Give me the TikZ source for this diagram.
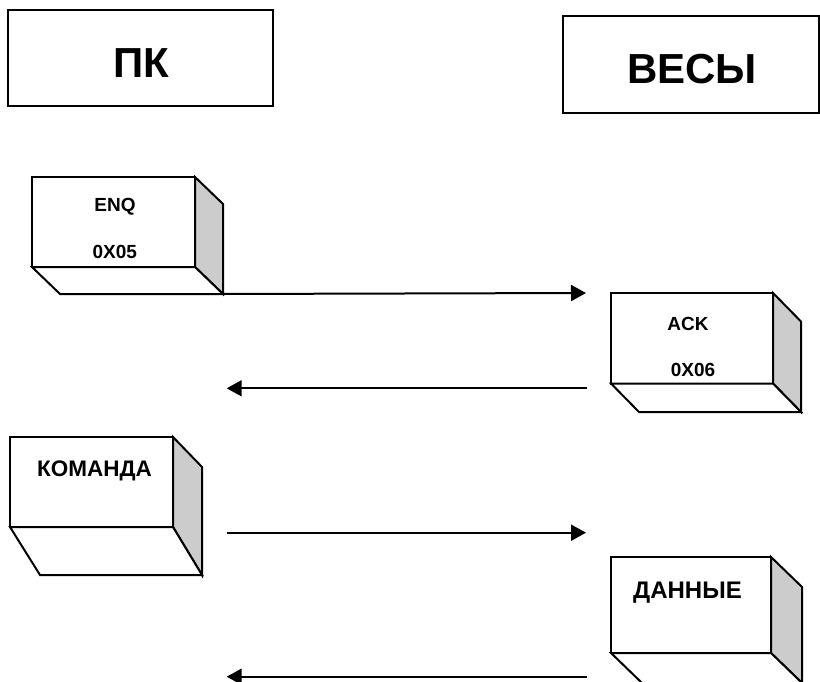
\documentclass[tikz,border=0pt]{standalone}
\usepackage{fontspec}
\setmainfont{Liberation Sans}
\usetikzlibrary{arrows.meta,calc}
\definecolor{sidegray}{RGB}{204,204,204}
\begin{document}
\begin{tikzpicture}[x=1pt,y=-1pt,line width=2pt,line join=miter,
  frame/.style={draw,rectangle,inner sep=0pt,outer sep=0pt},
  title/.style={font=\bfseries\fontsize{42}{42}\selectfont,anchor=base,inner sep=0pt},
  lbl/.style={font=\bfseries\fontsize{19}{19}\selectfont,anchor=base,inner sep=0pt},
  sideface/.style={draw,fill=sidegray},
  bottomface/.style={draw,fill=white},
  msg/.style={draw,-{Triangle[length=15pt,width=16pt]}}]
\useasboundingbox (0,0) rectangle (820,682);
\clip (0,0) rectangle (820,682);
\fill[white] (0,0) rectangle (820,682);

% title boxes
\node[frame,minimum width=265pt,minimum height=96pt] (pk) at (140.5,58) {};
\node[title] (pklbl) at (141,77.3) {ПК};
\node[frame,minimum width=255.5pt,minimum height=97pt] (ves) at (690.75,64.5) {};
\node[title] (veslbl) at (692,83.3) {ВЕСЫ};

% ENQ box
\node[frame,minimum width=163pt,minimum height=90pt] (enq) at (113.5,222) {};
\coordinate (enqtr) at ($(enq.north east)+(28,27)$);
\coordinate (enqbr) at ($(enq.south east)+(28,27)$);
\coordinate (enqbl) at ($(enq.south west)+(28,27)$);
\draw[sideface] (enq.north east) -- (enqtr) -- (enqbr) -- (enq.south east) -- cycle;
\draw[bottomface] (enq.south west) -- (enqbl) -- (enqbr) -- (enq.south east) -- cycle;
\node[lbl] (enq1) at (115,211.7) {ENQ};
\node[lbl] (enq2) at (114.7,258.3) {0X05};

% ACK box
\node[frame,minimum width=162pt,minimum height=90.5pt] (ack) at (692,338.25) {};
\coordinate (acktr) at ($(ack.north east)+(28,28.5)$);
\coordinate (ackbr) at ($(ack.south east)+(28,28.5)$);
\coordinate (ackbl) at ($(ack.south west)+(28,28.5)$);
\draw[sideface] (ack.north east) -- (acktr) -- (ackbr) -- (ack.south east) -- cycle;
\draw[bottomface] (ack.south west) -- (ackbl) -- (ackbr) -- (ack.south east) -- cycle;
\node[lbl] (ack1) at (688,330) {ACK};
\node[lbl] (ack2) at (693,376.7) {0X06};

% KOMANDA box
\node[frame,minimum width=163pt,minimum height=90pt] (cmd) at (91.5,482) {};
\coordinate (cmdtr) at ($(cmd.north east)+(29,30)$);
\coordinate (cmdbr) at ($(cmd.south east)+(29,48)$);
\coordinate (cmdbl) at ($(cmd.south west)+(30,48)$);
\draw[sideface] (cmd.north east) -- (cmdtr) -- (cmdbr) -- (cmd.south east) -- cycle;
\draw[bottomface] (cmd.south west) -- (cmdbl) -- (cmdbr) -- (cmd.south east) -- cycle;
\node[font=\bfseries\fontsize{22.5}{22.5}\selectfont,anchor=base,inner sep=0pt] (cmd1) at (94.5,476) {КОМАНДА};

% DANNYE box
\node[frame,minimum width=160pt,minimum height=96pt] (dat) at (691,605) {};
\coordinate (dattr) at ($(dat.north east)+(31,30)$);
\coordinate (datbr) at ($(dat.south east)+(31,30)$);
\coordinate (datbl) at ($(dat.south west)+(31,30)$);
\draw[sideface] (dat.north east) -- (dattr) -- (datbr) -- (dat.south east) -- cycle;
\draw[bottomface] (dat.south west) -- (datbl) -- (datbr) -- (dat.south east) -- cycle;
\node[font=\bfseries\fontsize{24}{24}\selectfont,anchor=base,inner sep=0pt] (dat1) at (687.5,598.3) {ДАННЫЕ};

% messages
\coordinate (m1e) at (586,293);
\coordinate (m2s) at (586.7,388.3);
\coordinate (m2e) at (226.7,388.3);
\coordinate (m3s) at (226.7,532.7);
\coordinate (m3e) at (586,532.7);
\coordinate (m4s) at (586.7,676.7);
\coordinate (m4e) at (226.7,676.7);
\draw[msg] (enqbr) -- (m1e);
\draw[msg] (m2s) -- (m2e);
\draw[msg] (m3s) -- (m3e);
\draw[msg] (m4s) -- (m4e);
\end{tikzpicture}
\end{document}
